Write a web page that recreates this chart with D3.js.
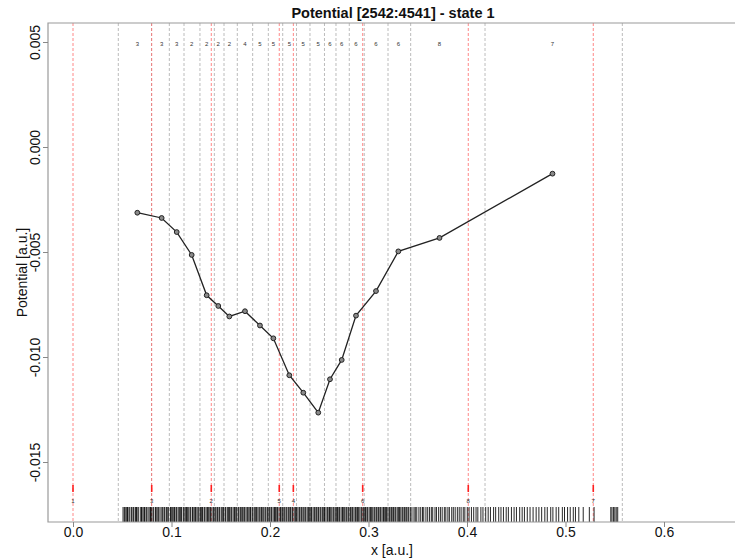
<!DOCTYPE html>
<html>
<head>
<meta charset="utf-8">
<script src="https://cdn.jsdelivr.net/npm/d3@7"></script>
<style>
html,body{margin:0;padding:0;background:#fff;}
svg{display:block;font-family:"Liberation Sans",Arial,Helvetica,sans-serif;}
</style>
</head>
<body>
<svg id="chart" width="735" height="559"></svg>
<script>
// ---- data ----
const title = "Potential [2542:4541] - state 1";
const xLabel = "x [a.u.]";
const yLabel = "Potential [a.u.]";
const xTicks = [0, 0.1, 0.2, 0.3, 0.4, 0.5, 0.6];
const yTicks = [0.005, 0, -0.005, -0.010, -0.015];

// point positions and potential values
const pointX = [0.0653, 0.0900, 0.1053, 0.1205, 0.1357, 0.1475, 0.1587, 0.1746, 0.1898, 0.2034,
                0.2196, 0.2338, 0.2490, 0.2609, 0.2728, 0.2873, 0.3076, 0.3303, 0.3721, 0.4868];
const potential = [-0.00313, -0.00338, -0.00405, -0.00514, -0.00706, -0.00757, -0.00807, -0.00782, -0.00850, -0.00911,
                   -0.01087, -0.01170, -0.01265, -0.01106, -0.01014, -0.00803, -0.00686, -0.00497, -0.00433, -0.00127];
// state assigned to each cell (printed on top)
const cellState = [3, 3, 3, 2, 2, 2, 2, 4, 5, 5, 5, 5, 5, 6, 6, 6, 6, 6, 8, 7];

// cell boundaries (grey dashed lines)
const cellBounds = [0.0460, 0.0797, 0.0978, 0.1127, 0.1289, 0.1435, 0.1533, 0.1668, 0.1824, 0.1983,
                    0.2129, 0.2269, 0.2406, 0.2553, 0.2670, 0.2805, 0.2957, 0.3198, 0.3428, 0.4183, 0.5577];

// state centres (red dashed lines) and their labels
const stateX = [0.0, 0.0799, 0.1404, 0.2094, 0.2237, 0.2941, 0.4013, 0.5282];
const stateLabel = [1, 3, 2, 5, 4, 6, 8, 7];

// rug of sampled positions
const rugX = [0.0508, 0.0521, 0.0529, 0.0541, 0.0553, 0.0558, 0.0572, 0.0590, 0.0597, 0.0611, 0.0618, 0.0634, 0.0645, 0.0651, 0.0667, 0.0688, 0.0695, 0.0702, 0.0719, 0.0726,
  0.0741, 0.0749, 0.0763, 0.0780, 0.0787, 0.0795, 0.0812, 0.0820, 0.0838, 0.0845, 0.0861, 0.0870, 0.0884, 0.0902, 0.0911, 0.0925, 0.0932, 0.0948, 0.0957, 0.0971,
  0.0990, 0.0998, 0.1012, 0.1024, 0.1031, 0.1046, 0.1053, 0.1068, 0.1080, 0.1093, 0.1101, 0.1119, 0.1127, 0.1140, 0.1152, 0.1161, 0.1175, 0.1189, 0.1196, 0.1213,
  0.1220, 0.1236, 0.1244, 0.1258, 0.1270, 0.1279, 0.1294, 0.1306, 0.1315, 0.1331, 0.1338, 0.1352, 0.1366, 0.1374, 0.1389, 0.1397, 0.1411, 0.1425, 0.1433, 0.1448,
  0.1462, 0.1469, 0.1483, 0.1490, 0.1506, 0.1520, 0.1529, 0.1545, 0.1551, 0.1567, 0.1580, 0.1588, 0.1603, 0.1611, 0.1626, 0.1640, 0.1647, 0.1661, 0.1677, 0.1684,
  0.1699, 0.1708, 0.1722, 0.1735, 0.1743, 0.1757, 0.1770, 0.1779, 0.1795, 0.1802, 0.1818, 0.1826, 0.1841, 0.1855, 0.1862, 0.1877, 0.1890, 0.1899, 0.1913, 0.1921,
  0.1936, 0.1950, 0.1958, 0.1973, 0.1981, 0.1996, 0.2010, 0.2017, 0.2032, 0.2046, 0.2055, 0.2069, 0.2077, 0.2092, 0.2106, 0.2113, 0.2128, 0.2141, 0.2150, 0.2164,
  0.2172, 0.2187, 0.2201, 0.2209, 0.2224, 0.2231, 0.2246, 0.2260, 0.2268, 0.2283, 0.2297, 0.2304, 0.2318, 0.2326, 0.2342, 0.2355, 0.2363, 0.2378, 0.2392, 0.2399,
  0.2414, 0.2421, 0.2437, 0.2450, 0.2458, 0.2473, 0.2487, 0.2494, 0.2509, 0.2517, 0.2532, 0.2546, 0.2553, 0.2568, 0.2582, 0.2590, 0.2604, 0.2612, 0.2627, 0.2641,
  0.2649, 0.2663, 0.2677, 0.2685, 0.2699, 0.2707, 0.2722, 0.2736, 0.2744, 0.2758, 0.2772, 0.2780, 0.2794, 0.2802, 0.2817, 0.2831, 0.2839, 0.2853, 0.2867, 0.2875,
  0.2889, 0.2897, 0.2912, 0.2926, 0.2934, 0.2948, 0.2962, 0.2970, 0.2984, 0.2992, 0.3007, 0.3021, 0.3029, 0.3043, 0.3057, 0.3065, 0.3079, 0.3087, 0.3102, 0.3116,
  0.3124, 0.3138, 0.3152, 0.3160, 0.3174, 0.3182, 0.3197, 0.3211, 0.3219, 0.3233, 0.3247, 0.3255, 0.3269, 0.3277, 0.3292, 0.3306, 0.3314, 0.3328, 0.3342, 0.3350,
  0.3364, 0.3372, 0.3387, 0.3401, 0.3409, 0.3425, 0.3441, 0.3462, 0.3475, 0.3490, 0.3512, 0.3530, 0.3548, 0.3561, 0.3583, 0.3601, 0.3620, 0.3638, 0.3652, 0.3675,
  0.3690, 0.3712, 0.3730, 0.3748, 0.3770, 0.3785, 0.3806, 0.3821, 0.3845, 0.3861, 0.3880, 0.3902, 0.3921, 0.3940, 0.3962, 0.3978, 0.4003, 0.4021, 0.4045, 0.4068,
  0.4092, 0.4110, 0.4141, 0.4162, 0.4190, 0.4215, 0.4238, 0.4270, 0.4291, 0.4322, 0.4345, 0.4370, 0.4398, 0.4420, 0.4451, 0.4478, 0.4502, 0.4535, 0.4560, 0.4583,
  0.4612, 0.4640, 0.4671, 0.4702, 0.4730, 0.4758, 0.4790, 0.4815, 0.4850, 0.4872, 0.4905, 0.4931, 0.4968, 0.4990, 0.5021, 0.5048, 0.5079, 0.5101, 0.5135, 0.5180,
  0.5242, 0.5290, 0.5460, 0.5472, 0.5488, 0.5501, 0.5515, 0.5530];

// ---- layout ----
const svg = d3.select("#chart");
const plot = {left: 48, right: 737, top: 23, bottom: 522};

const x = d3.scaleLinear().domain([0, 0.6]).range([73, 664]);
const y = d3.scaleLinear().domain([0.005, -0.015]).range([42, 462]);

// grey cell boundaries
svg.append("g").selectAll("line").data(cellBounds).join("line")
  .attr("x1", d => x(d)).attr("x2", d => x(d))
  .attr("y1", plot.top).attr("y2", plot.bottom)
  .attr("stroke", "#b4b4b4").attr("stroke-width", 0.9).attr("stroke-dasharray", "3,2");

// red state lines
svg.append("g").selectAll("line").data(stateX).join("line")
  .attr("x1", d => x(d)).attr("x2", d => x(d))
  .attr("y1", plot.top).attr("y2", plot.bottom)
  .attr("stroke", "#ff6a6a").attr("stroke-width", 0.8).attr("stroke-dasharray", "3,2");

// red short markers near bottom
svg.append("g").selectAll("line").data(stateX).join("line")
  .attr("x1", d => x(d)).attr("x2", d => x(d))
  .attr("y1", 485).attr("y2", 492)
  .attr("stroke", "#ff2020").attr("stroke-width", 1.6);

// state labels near bottom
svg.append("g").selectAll("text").data(stateX).join("text")
  .attr("x", d => x(d)).attr("y", 503)
  .attr("text-anchor", "middle").attr("font-size", 6).attr("fill", "#333")
  .text((d, i) => stateLabel[i]);

// cell labels on top
svg.append("g").selectAll("text").data(pointX).join("text")
  .attr("x", d => x(d)).attr("y", 45.5)
  .attr("text-anchor", "middle").attr("font-size", 6).attr("fill", "#333")
  .text((d, i) => cellState[i]);

// rug
svg.append("g").selectAll("line").data(rugX).join("line")
  .attr("x1", d => x(d)).attr("x2", d => x(d))
  .attr("y1", 507).attr("y2", plot.bottom)
  .attr("stroke", "#000").attr("stroke-width", 1).attr("stroke-opacity", 0.85);

// potential line and points
const pts = pointX.map((d, i) => [d, potential[i]]);
svg.append("path").datum(pts)
  .attr("fill", "none").attr("stroke", "#222").attr("stroke-width", 1.3)
  .attr("d", d3.line().x(d => x(d[0])).y(d => y(d[1])));
svg.append("g").selectAll("circle").data(pts).join("circle")
  .attr("cx", d => x(d[0])).attr("cy", d => y(d[1])).attr("r", 2.4)
  .attr("fill", "#8a8a8a").attr("stroke", "#222").attr("stroke-width", 1);

// frame
svg.append("path")
  .attr("d", `M${plot.right},${plot.top}H${plot.left}V${plot.bottom}H${plot.right}`)
  .attr("fill", "none").attr("stroke", "#9a9a9a").attr("stroke-width", 1.2);

// axes
const fmtY = v => (v < 0 ? "-" : "") + Math.abs(v).toFixed(3);
const xAxis = svg.append("g").attr("transform", `translate(0,${plot.bottom})`)
  .call(d3.axisBottom(x).tickValues(xTicks).tickFormat(d3.format(".1f")).tickSize(5).tickPadding(0));
xAxis.select(".domain").remove();
xAxis.selectAll("line").attr("stroke", "#888");
xAxis.selectAll("text").attr("font-size", 14).attr("fill", "#111").attr("font-family", "Liberation Sans, Arial, sans-serif");

const yAxis = svg.append("g").attr("transform", `translate(${plot.left},0)`)
  .call(d3.axisLeft(y).tickValues(yTicks).tickFormat(fmtY).tickSize(5));
yAxis.select(".domain").remove();
yAxis.selectAll("line").attr("stroke", "#888");
yAxis.selectAll("text")
  .attr("x", 0).attr("dy", 0)
  .attr("transform", "translate(-8,0) rotate(-90)")
  .attr("text-anchor", "middle")
  .attr("font-size", 14).attr("fill", "#111").attr("font-family", "Liberation Sans, Arial, sans-serif");

// titles
svg.append("text").attr("x", 393).attr("y", 17.5).attr("text-anchor", "middle")
  .attr("font-size", 14.5).attr("font-weight", "bold").attr("fill", "#111").text(title);
svg.append("text").attr("x", 392).attr("y", 555).attr("text-anchor", "middle")
  .attr("font-size", 14).attr("fill", "#111").text(xLabel);
svg.append("text").attr("transform", "translate(27,272.5) rotate(-90)").attr("text-anchor", "middle")
  .attr("font-size", 14).attr("fill", "#111").text(yLabel);
</script>
</body>
</html>
